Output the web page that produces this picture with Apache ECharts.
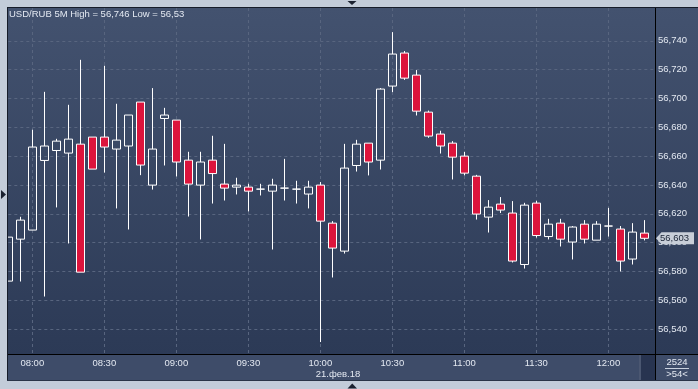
<!DOCTYPE html>
<html><head><meta charset="utf-8">
<script src="https://cdn.jsdelivr.net/npm/echarts@6/dist/echarts.min.js"></script>
<style>html,body{margin:0;padding:0;background:#c3ccd9;}#c{width:698px;height:389px;}</style>
</head><body><div id="c"></div>
<script>
// ---- data ----
const times = ['07:50','07:55','08:00','08:05','08:10','08:15','08:20','08:25','08:30','08:35',
  '08:40','08:45','08:50','08:55','09:00','09:05','09:10','09:15','09:20','09:25',
  '09:30','09:35','09:40','09:45','09:50','09:55','10:00','10:05','10:10','10:15',
  '10:20','10:25','10:30','10:35','10:40','10:45','10:50','10:55','11:00','11:05',
  '11:10','11:15','11:20','11:25','11:30','11:35','11:40','11:45','11:50','11:55',
  '12:00','12:05','12:10','12:15'];
const opens = [56.5733,56.6024,56.6087,56.6570,56.6639,56.6621,56.6683,56.6732,56.6732,56.6649,
  56.6670,56.6975,56.6399,56.6861,56.6850,56.6572,56.6399,56.6572,56.6406,56.6385,
  56.6385,56.6371,56.6357,56.6378,56.6371,56.6337,56.6399,56.6135,56.5941,56.6535,
  56.6690,56.6572,56.7086,56.7315,56.7162,56.6905,56.6753,56.6690,56.6600,56.6461,
  56.6177,56.6267,56.6205,56.5848,56.6274,56.6042,56.6135,56.6004,56.6128,56.6017,
  56.6115,56.6094,56.5886,56.6066];
const closes = [56.6038,56.6156,56.6663,56.6670,56.6704,56.6718,56.5795,56.6510,56.6663,56.6711,
  56.6885,56.6538,56.6649,56.6885,56.6559,56.6406,56.6559,56.6479,56.6378,56.6399,
  56.6357,56.6371,56.6399,56.6378,56.6371,56.6385,56.6149,56.5962,56.6517,56.6683,
  56.6559,56.7065,56.7308,56.7141,56.6912,56.6739,56.6670,56.6593,56.6482,56.6198,
  56.6246,56.6226,56.5872,56.6260,56.6049,56.6128,56.6024,56.6108,56.6024,56.6128,
  56.6115,56.5872,56.6073,56.6030];
const lows = [56.5733,56.5730,56.6087,56.5626,56.6244,56.5994,56.5795,56.6510,56.6486,56.6237,
  56.6091,56.6468,56.6368,56.6535,56.6459,56.6181,56.6022,56.6271,56.6292,56.6334,
  56.6216,56.6327,56.5952,56.6292,56.6271,56.6237,56.5310,56.5758,56.5924,56.6493,
  56.6466,56.6507,56.7044,56.7129,56.6882,56.6727,56.6618,56.6438,56.6466,56.6160,
  56.6070,56.6205,56.5862,56.5820,56.6035,56.6022,56.5973,56.5883,56.5994,56.6017,
  56.6042,56.5800,56.5848,56.6015];
const highs = [56.6038,56.6179,56.6783,56.7046,56.6720,56.6956,56.7268,56.6732,56.7227,56.6963,
  56.6885,56.6975,56.7072,56.6935,56.6850,56.6630,56.6630,56.6741,56.6685,56.6450,
  56.6408,56.6408,56.6443,56.6581,56.6429,56.6429,56.6420,56.6149,56.6685,56.6713,
  56.6690,56.7072,56.7460,56.7329,56.7197,56.6916,56.6776,56.6704,56.6630,56.6470,
  56.6295,56.6316,56.6288,56.6276,56.6290,56.6165,56.6165,56.6115,56.6156,56.6149,
  56.6241,56.6115,56.6135,56.6156];
const xTickLabels = ['08:00','08:30','09:00','09:30','10:00','10:30','11:00','11:30','12:00'];
const titleText = 'USD/RUB 5M High = 56,746 Low = 56,53';
const dateLabel = '21.фев.18';
const barsTotal = '2524';
const barsShown = '>54<';

// ---- layout constants ----
const W = 698, H = 389;
const FONT = "'Liberation Sans', Arial, sans-serif";
const FS = 9.5;
const TXT = '#e3e8f1';
const GRIDC = '#58657f';
const k = 1441.5;            // px per price unit
const yRef = 40.8, vRef = 56.74;
const plotTop = 8, plotBottom = 354, plotRight = 655;
const xOrigin = 32.3, xStep = 12;
const xMin = -6, xMax = (plotRight - xOrigin) / xStep;
const gridLeft = xOrigin + xMin * xStep;
const y0Min = vRef - (plotBottom - yRef) / k, y0Max = vRef + (yRef - plotTop) / k;
const y1Min = 56.52, y1Max = 56.76;
const g1Top = yRef - (y1Max - vRef) * k, g1Bottom = yRef + (vRef - y1Min) * k;

function toIndex(t) { const [h, m] = t.split(':').map(Number); return (h * 60 + m - 480) / 5; }
const data = times.map((t, i) => [toIndex(t), opens[i], closes[i], lows[i], highs[i]]);
const fmt = v => v.toFixed(3).replace('.', ',');

const chart = echarts.init(document.getElementById('c'), null, {renderer: 'canvas', width: W, height: H});
const bgGrad = {type: 'linear', x: 0, y: 0, x2: 0, y2: 1,
  colorStops: [{offset: 0, color: '#43526f'}, {offset: 1, color: '#2c3a56'}]};

chart.setOption({
  animation: false,
  backgroundColor: '#c3ccd9',
  title: {text: titleText, left: 9, top: 9, padding: 0,
    textStyle: {color: TXT, fontSize: FS, fontWeight: 'normal', fontFamily: FONT}},
  grid: [
    {left: gridLeft, right: W - plotRight, top: plotTop, bottom: H - plotBottom, outerBoundsMode: 'none', containLabel: false},
    {left: gridLeft, right: W - plotRight, top: g1Top, bottom: H - g1Bottom, outerBoundsMode: 'none', containLabel: false}
  ],
  xAxis: [
    {gridIndex: 0, type: 'value', min: xMin, max: xMax, interval: 6,
      axisLine: {show: false}, axisTick: {show: false},
      splitLine: {show: true, showMinLine: false, showMaxLine: false, lineStyle: {color: GRIDC, type: [3, 3], width: 1}},
      axisLabel: {color: TXT, fontSize: FS, fontFamily: FONT, margin: 4, showMaxLabel: false, showMinLabel: false,
        formatter: v => (v >= 0 && v % 6 === 0 && xTickLabels[v / 6]) ? xTickLabels[v / 6] : ''}},
    {gridIndex: 1, type: 'value', min: xMin, max: xMax, show: false}
  ],
  yAxis: [
    {gridIndex: 0, type: 'value', min: y0Min, max: y0Max, show: false},
    {gridIndex: 1, type: 'value', position: 'right', min: y1Min, max: y1Max, interval: 0.02,
      axisLine: {show: false}, axisTick: {show: false},
      splitLine: {show: true, showMinLine: false, showMaxLine: false, lineStyle: {color: GRIDC, type: [3, 3], width: 1}},
      axisLabel: {color: TXT, fontSize: FS, fontFamily: FONT, margin: 3, showMinLabel: false, showMaxLabel: false,
        formatter: v => fmt(v)}}
  ],
  series: [{
    type: 'candlestick', xAxisIndex: 0, yAxisIndex: 0, barWidth: 9, silent: true, clip: true,
    encode: {x: 0, y: [1, 2, 3, 4]},
    data: data,
    itemStyle: {color: 'rgba(0,0,0,0)', color0: '#dc143c', borderColor: '#ffffff', borderColor0: '#ffffff',
      borderColorDoji: '#ffffff', borderWidth: 1}
  }]
});

const lastClose = closes[closes.length - 1];
const py = chart.convertToPixel({yAxisIndex: 0}, lastClose);

chart.setOption({
  graphic: [
    // backgrounds
    {type: 'rect', z: -10, silent: true, shape: {x: 8, y: 8, width: plotRight - 8, height: plotBottom - 8}, style: {fill: bgGrad}},
    {type: 'rect', z: -10, silent: true, shape: {x: plotRight, y: 8, width: W - plotRight, height: plotBottom - 8}, style: {fill: bgGrad}},
    {type: 'rect', z: -10, silent: true, shape: {x: 8, y: plotBottom, width: W - 8, height: 381 - plotBottom}, style: {fill: '#3e4c69'}},
    {type: 'rect', z: -9, silent: true, shape: {x: 639, y: 355, width: 16, height: 26}, style: {fill: '#283450'}},
    {type: 'rect', z: -9, silent: true, shape: {x: 639, y: 355, width: 2, height: 26}, style: {fill: '#4b5771'}},
    // frame
    {type: 'rect', z: 100, silent: true, shape: {x: 0, y: 0, width: 7, height: H}, style: {fill: '#c3ccd9'}},
    {type: 'rect', z: 100, silent: true, shape: {x: 0, y: 0, width: W, height: 7}, style: {fill: '#c3ccd9'}},
    {type: 'rect', z: 100, silent: true, shape: {x: 0, y: 381, width: W, height: H - 381}, style: {fill: '#c3ccd9'}},
    {type: 'rect', z: 100, silent: true, shape: {x: 7, y: 7, width: 1, height: 374}, style: {fill: '#161c29'}},
    {type: 'rect', z: 100, silent: true, shape: {x: 7, y: 7, width: W - 7, height: 1}, style: {fill: '#161c29'}},
    {type: 'rect', z: 100, silent: true, shape: {x: 7, y: 380, width: W - 7, height: 1}, style: {fill: '#2a3447'}},
    // black separators
    {type: 'rect', z: 50, silent: true, shape: {x: 8, y: plotBottom, width: W - 8, height: 1}, style: {fill: '#000000'}},
    {type: 'rect', z: 50, silent: true, shape: {x: plotRight, y: 8, width: 1, height: 373}, style: {fill: '#000000'}},
    // arrows on frame
    {type: 'polygon', z: 101, silent: true, shape: {points: [[1, 190], [6, 194.5], [1, 199]]}, style: {fill: '#1b2130'}},
    {type: 'polygon', z: 101, silent: true, shape: {points: [[347.5, 1], [356.5, 1], [352, 5]]}, style: {fill: '#1b2130'}},
    {type: 'polygon', z: 101, silent: true, shape: {points: [[347.5, 388.5], [357, 388.5], [352.25, 383.5]]}, style: {fill: '#1b2130'}},
    // bottom texts
    {type: 'text', z: 60, silent: true, x: 338, y: 374, style: {text: dateLabel, fill: TXT, font: FS + 'px ' + FONT, align: 'center', verticalAlign: 'middle'}},
    {type: 'text', z: 60, silent: true, x: 677, y: 362, style: {text: barsTotal, fill: TXT, font: FS + 'px ' + FONT, align: 'center', verticalAlign: 'middle'}},
    {type: 'rect', z: 60, silent: true, shape: {x: 665, y: 368, width: 24, height: 1}, style: {fill: '#c9d1de'}},
    {type: 'text', z: 60, silent: true, x: 677, y: 374.5, style: {text: barsShown, fill: TXT, font: FS + 'px ' + FONT, align: 'center', verticalAlign: 'middle'}},
    // current price tag
    {type: 'polygon', z: 110, silent: true, shape: {points: [[656, py], [661.5, py - 6], [694, py - 6], [694, py + 6], [661.5, py + 6]]}, style: {fill: '#c8ced8'}},
    {type: 'text', z: 111, silent: true, x: 660, y: py, style: {text: fmt(lastClose), fill: '#1b2436', font: FS + 'px ' + FONT, align: 'left', verticalAlign: 'middle'}}
  ]
});
</script></body></html>
